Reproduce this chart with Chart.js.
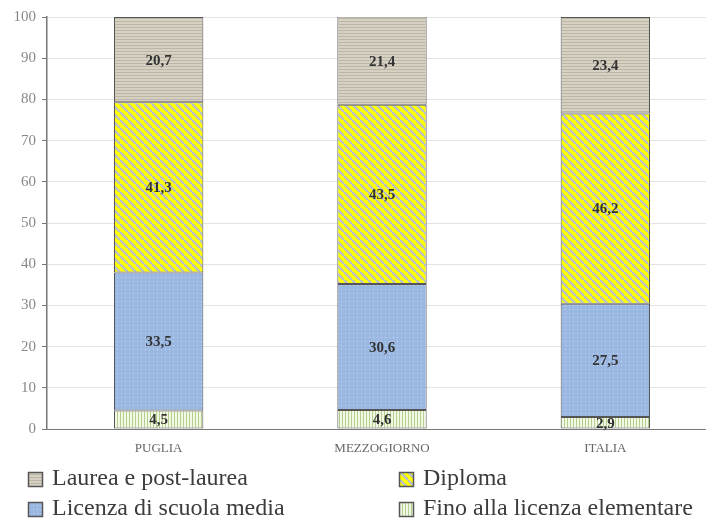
<!DOCTYPE html>
<html>
<head>
<meta charset="utf-8">
<script src="https://cdn.jsdelivr.net/npm/chart.js@4"></script>
<style>
  body { margin: 0; background: #fff; }
  #wrap { width: 706px; height: 520px; }
</style>
</head>
<body>
<div id="wrap"><canvas id="grafico" width="706" height="520"></canvas></div>
<script>
const categorie = ['PUGLIA', 'MEZZOGIORNO', 'ITALIA'];
const fino = [4.5, 4.6, 2.9];
const licenza = [33.5, 30.6, 27.5];
const diploma = [41.3, 43.5, 46.2];
const laurea = [20.7, 21.4, 23.4];
const tickY = [0, 10, 20, 30, 40, 50, 60, 70, 80, 90, 100];

const serif = '"Liberation Serif", "DejaVu Serif", serif';

// piccoli motivi per i riempimenti
const motivo = (w, h, disegna) => {
    const c = document.createElement('canvas');
    c.width = w; c.height = h;
    const g = c.getContext('2d');
    disegna(g, w, h);
    return g.createPattern(c, 'repeat');
}

const pLaurea = motivo(4, 3, (g, w, h) => {
    g.fillStyle = '#d6d1c3'; g.fillRect(0, 0, w, h);
    g.fillStyle = '#bcb6a6'; g.fillRect(0, 0, w, 1);
});
const pDiploma = motivo(8, 8, (g, w, h) => {
    g.fillStyle = '#ffff00'; g.fillRect(0, 0, w, h);
    g.strokeStyle = '#b9c0c6'; g.lineWidth = 2.4;
    for (let k = -8; k <= 8; k += 8) {
        g.beginPath(); g.moveTo(k, 0); g.lineTo(k + 8, 8); g.stroke();
    }
});
const pLicenza = motivo(4, 4, (g, w, h) => {
    g.fillStyle = '#9ab8e2'; g.fillRect(0, 0, w, h);
    g.fillStyle = '#c6d8f0'; g.fillRect(1, 1, 1, 1);
});
const pFino = motivo(3, 4, (g, w, h) => {
    g.fillStyle = '#f2f7e6'; g.fillRect(0, 0, w, h);
    g.fillStyle = '#b3d08c'; g.fillRect(0, 0, 1, h);
});

const serie = [
    { label: 'Fino alla licenza elementare', data: fino, backgroundColor: pFino },
    { label: 'Licenza di scuola media', data: licenza, backgroundColor: pLicenza },
    { label: 'Diploma', data: diploma, backgroundColor: pDiploma },
    { label: 'Laurea e post-laurea', data: laurea, backgroundColor: pLaurea }
];

// l'area del grafico prosegue un po' oltre il bordo destro
const areaLarga = {
    id: 'areaLarga',
    afterLayout(chart) {
        const x = chart.scales.x;
        const destra = 717;
        chart.chartArea.right = destra;
        chart.chartArea.width = destra - chart.chartArea.left;
        x.right = destra;
        x.width = destra - x.left;
        x.configure();
    }
};

const etichette = {
    id: 'etichette',
    afterDatasetsDraw(chart) {
        const ctx = chart.ctx;
        ctx.save();
        ctx.font = 'bold 15px ' + serif;
        ctx.fillStyle = '#333';
        ctx.textAlign = 'center';
        ctx.textBaseline = 'middle';
        chart.data.datasets.forEach((ds, i) => {
            chart.getDatasetMeta(i).data.forEach((bar, j) => {
                const y = (bar.y + bar.base) / 2;
                ctx.fillText(ds.data[j].toFixed(1).replace('.', ','), bar.x, y + 1);
            });
        });
        ctx.restore();
    }
};

const legenda = {
    id: 'legenda',
    afterDraw(chart) {
        const ctx = chart.ctx;
        const ordine = [3, 2, 1, 0];
        const colX = [28, 399];
        const rigaY = [479, 509];
        ctx.save();
        ctx.font = '24px ' + serif;
        ctx.textBaseline = 'middle';
        ordine.forEach((idx, n) => {
            const ds = chart.data.datasets[idx];
            const x = colX[n % 2];
            const y = rigaY[Math.floor(n / 2)];
            ctx.fillStyle = ds.backgroundColor;
            ctx.fillRect(x, y - 7, 15, 15);
            ctx.strokeStyle = '#555';
            ctx.lineWidth = 1.5;
            ctx.strokeRect(x + 0.5, y - 6.5, 14, 14);
            ctx.fillStyle = '#3c3c3c';
            ctx.fillText(ds.label, x + 24, y);
        });
        ctx.restore();
    }
};

new Chart(document.querySelector('#grafico'), {
    type: 'bar',
    data: {
        labels: categorie,
        datasets: serie.map(s => ({
            ...s,
            borderColor: '#555',
            borderWidth: 1,
            borderSkipped: false,
            barPercentage: 0.4,
            categoryPercentage: 1
        }))
    },
    options: {
        responsive: false,
        animation: false,
        layout: { padding: { top: 17, right: 0, bottom: 61, left: 0 } },
        plugins: { legend: { display: false }, tooltip: { enabled: false } },
        scales: {
            x: {
                stacked: true,
                grid: { display: false },
                border: { color: '#777', width: 1 },
                ticks: { color: '#666', font: { family: serif, size: 13 }, padding: 4 },
                afterFit: s => { s.height = 30; }
            },
            y: {
                stacked: true,
                min: 0,
                max: 100,
                afterBuildTicks: s => { s.ticks = tickY.map(v => ({ value: v })); },
                grid: { color: '#e4e4e4', tickColor: '#777', tickLength: 5 },
                border: { color: '#777', width: 1.5 },
                ticks: { color: '#888', font: { family: serif, size: 15 }, padding: 6 },
                afterFit: s => { s.width = 47; }
            }
        }
    },
    plugins: [areaLarga, etichette, legenda]
});
</script>
</body>
</html>
